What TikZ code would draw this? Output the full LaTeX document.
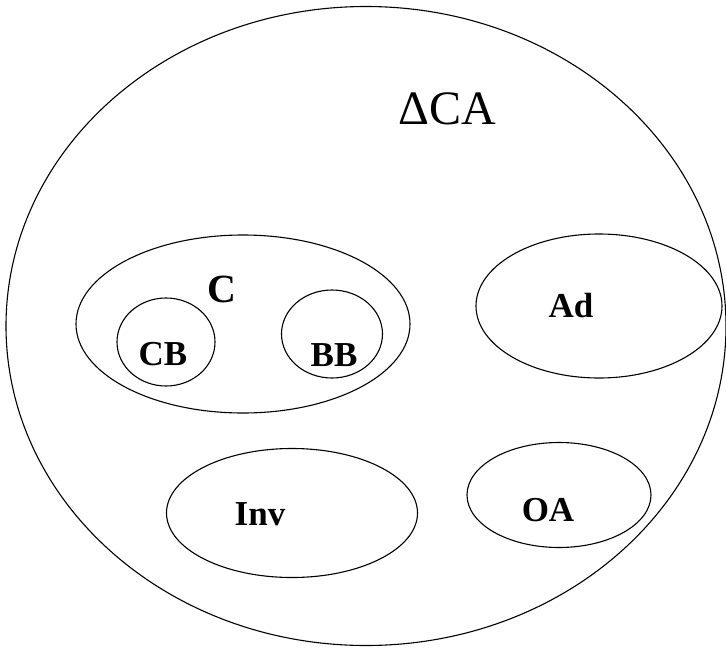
\documentclass[tikz,border=0pt]{standalone}
\usepackage{fontspec}
\setmainfont{Liberation Serif}
\usetikzlibrary{shapes.geometric}
\begin{document}
\begin{tikzpicture}[x=1pt,y=-1pt,
  set/.style={draw=black, line width=1.1pt, ellipse, inner sep=0pt},
  lbl/.style={font=\fontsize{35}{40}\selectfont\bfseries, inner sep=0pt},
  title/.style={font=\fontsize{48}{52}\selectfont, inner sep=0pt}]
  \useasboundingbox (0,0) rectangle (726,648);
  % universe
  \node[set, minimum width=720pt, minimum height=639pt] (U) at (366,326) {};
  \node[title] (UL) at (447,109) {ΔCA};
  % C with its two subsets
  \node[set, minimum width=334pt, minimum height=178pt] (C) at (243,324) {};
  \node[font=\fontsize{40}{44}\selectfont\bfseries, inner sep=0pt] (CL) at (222,289) {C};
  \node[set, minimum width=98pt, minimum height=88pt] (CB) at (166,342) {};
  \node[lbl] (CBL) at (163,354) {CB};
  \node[set, minimum width=101pt, minimum height=88pt] (BB) at (332,334) {};
  \node[lbl] (BBL) at (334,355) {BB};
  % remaining sets
  \node[set, minimum width=246pt, minimum height=144pt] (Ad) at (599,306) {};
  \node[lbl] (AdL) at (571,306) {Ad};
  \node[set, minimum width=251pt, minimum height=129pt] (Inv) at (292,513) {};
  \node[lbl] (InvL) at (260,514) {Inv};
  \node[set, minimum width=184pt, minimum height=105pt] (OA) at (559,495) {};
  \node[lbl] (OAL) at (548,510) {OA};
\end{tikzpicture}
\end{document}
